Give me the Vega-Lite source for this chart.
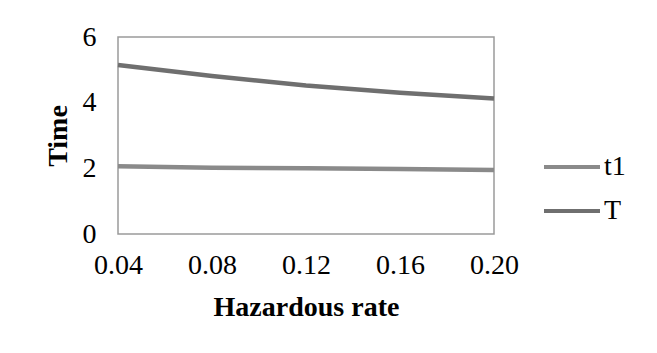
{
  "$schema": "https://vega.github.io/schema/vega-lite/v6.json",
  "width": 376,
  "height": 197,
  "autosize": "none",
  "padding": {"left": 118, "top": 37, "right": 163, "bottom": 119},
  "background": "white",
  "data": {
    "values": [
      {"rate": 0.04, "series": "t1", "time": 2.06},
      {"rate": 0.08, "series": "t1", "time": 2.02},
      {"rate": 0.12, "series": "t1", "time": 2.0},
      {"rate": 0.16, "series": "t1", "time": 1.98},
      {"rate": 0.20, "series": "t1", "time": 1.95},
      {"rate": 0.04, "series": "T", "time": 5.15},
      {"rate": 0.08, "series": "T", "time": 4.81},
      {"rate": 0.12, "series": "T", "time": 4.52},
      {"rate": 0.16, "series": "T", "time": 4.3},
      {"rate": 0.20, "series": "T", "time": 4.13}
    ]
  },
  "mark": {"type": "line", "strokeWidth": 4.5},
  "encoding": {
    "x": {
      "field": "rate",
      "type": "quantitative",
      "title": "Hazardous rate",
      "scale": {"domain": [0.04, 0.2], "nice": false, "zero": false},
      "axis": {
        "values": [0.04, 0.08, 0.12, 0.16, 0.2],
        "format": ".2f",
        "grid": false,
        "ticks": false,
        "domain": false,
        "labelFlush": false,
        "labelBound": false,
        "labelPadding": 17,
        "labelFont": "Liberation Serif",
        "labelFontSize": 28,
        "labelColor": "#000",
        "titleFont": "Liberation Serif",
        "titleFontSize": 28,
        "titleFontWeight": "bold",
        "titleColor": "#000",
        "titlePadding": 14
      }
    },
    "y": {
      "field": "time",
      "type": "quantitative",
      "title": "Time",
      "scale": {"domain": [0, 6], "nice": false},
      "axis": {
        "values": [0, 2, 4, 6],
        "grid": false,
        "ticks": false,
        "domain": false,
        "labelFlush": false,
        "labelPadding": 22,
        "labelFont": "Liberation Serif",
        "labelFontSize": 28,
        "labelColor": "#000",
        "titleFont": "Liberation Serif",
        "titleFontSize": 28,
        "titleFontWeight": "bold",
        "titleColor": "#000",
        "titlePadding": 10
      }
    },
    "color": {
      "field": "series",
      "type": "nominal",
      "sort": ["t1", "T"],
      "title": null,
      "scale": {"domain": ["t1", "T"], "range": ["#8a8a8a", "#6f6f6f"]},
      "legend": {
        "orient": "none",
        "legendX": 424,
        "legendY": 100,
        "symbolType": "stroke",
        "symbolSize": 3136,
        "symbolStrokeWidth": 4,
        "labelFont": "Liberation Serif",
        "labelFontSize": 28,
        "labelColor": "#000",
        "labelOffset": 2,
        "rowPadding": -14
      }
    }
  },
  "config": {
    "view": {"stroke": "#9a9a9a", "strokeWidth": 1.5}
  }
}
